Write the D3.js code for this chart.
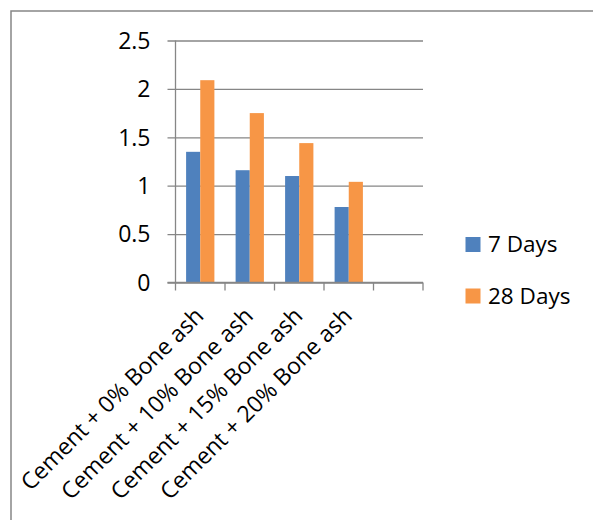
<!DOCTYPE html>
<html>
<head>
<meta charset="utf-8">
<script src="https://cdn.jsdelivr.net/npm/d3@7"></script>
<style>
  html, body { margin: 0; padding: 0; background: #fff; }
  svg { display: block; }
  text { font-family: "Open Sans", "Noto Sans", sans-serif; fill: #000; }
</style>
</head>
<body>
<svg id="chart" width="593" height="520"></svg>
<script>
// Compressive strength by mix, two curing ages
const categories = [
  "Cement + 0% Bone ash",
  "Cement + 10% Bone ash",
  "Cement + 15% Bone ash",
  "Cement + 20% Bone ash",
  ""                      // trailing empty category slot
];
const seriesNames = ["7 Days", "28 Days"];
const days7  = [1.35, 1.16, 1.10, 0.78];
const days28 = [2.09, 1.75, 1.44, 1.04];
const yTicks = [0, 0.5, 1, 1.5, 2, 2.5];
const yTickLabels = ["0", "0.5", "1", "1.5", "2", "2.5"];
const colors = ["#4F81BD", "#F79646"];

const series = [days7, days28];
const svg = d3.select("#chart");
const gridColor = "#868686";

// chart frame (top and left edges visible)
svg.append("path")
  .attr("d", "M11,520 L11,11 L593,11")
  .attr("fill", "none")
  .attr("stroke", gridColor)
  .attr("stroke-width", 1.5);

const plot = { left: 175.5, right: 423, top: 40.5, bottom: 282.5 };

const x = d3.scaleBand()
  .domain(d3.range(categories.length))
  .range([plot.left, plot.right])
  .paddingInner(0).paddingOuter(0);

const xSub = d3.scaleBand()
  .domain(d3.range(series.length))
  .range([0, x.bandwidth()])
  .paddingInner(0).paddingOuter(0.75);

const y = d3.scaleLinear().domain([0, 2.5]).range([plot.bottom, plot.top]);

// horizontal gridlines with outside tick stubs
const yAxis = d3.axisLeft(y)
  .tickValues(yTicks)
  .tickFormat((d, i) => yTickLabels[i])
  .tickSize(-(plot.right - plot.left))
  .tickSizeOuter(0);

const gy = svg.append("g")
  .attr("transform", `translate(${plot.left},0)`)
  .call(yAxis);
gy.select(".domain").remove();
gy.selectAll(".tick line")
  .attr("x1", -8)
  .attr("stroke", gridColor)
  .attr("stroke-width", 1.3);
gy.selectAll(".tick text")
  .attr("x", -25)
  .attr("dy", "0.34em")
  .style("font-size", "23px")
  .style("font-family", "'Open Sans', sans-serif");

// vertical axis line
svg.append("line")
  .attr("x1", plot.left).attr("x2", plot.left)
  .attr("y1", plot.top).attr("y2", plot.bottom)
  .attr("stroke", gridColor).attr("stroke-width", 1.3);

// bars
series.forEach((vals, s) => {
  svg.append("g").selectAll("rect")
    .data(vals)
    .join("rect")
    .attr("x", (d, i) => x(i) + xSub(s))
    .attr("width", xSub.bandwidth())
    .attr("y", d => y(d))
    .attr("height", d => y(0) - y(d))
    .attr("fill", colors[s]);
});

// category axis with ticks at slot boundaries
const boundaries = d3.range(categories.length + 1)
  .map(i => i < categories.length ? x(i) : x(categories.length - 1) + x.bandwidth());
svg.append("line")
  .attr("x1", plot.left - 8).attr("x2", plot.right)
  .attr("y1", plot.bottom).attr("y2", plot.bottom)
  .attr("stroke", gridColor).attr("stroke-width", 1.3);
svg.append("g").selectAll("line")
  .data(boundaries)
  .join("line")
  .attr("x1", d => d).attr("x2", d => d)
  .attr("y1", plot.bottom).attr("y2", plot.bottom + 8)
  .attr("stroke", gridColor).attr("stroke-width", 1.3);

// rotated category labels
svg.append("g").selectAll("text")
  .data(categories.filter(c => c !== ""))
  .join("text")
  .attr("transform", (d, i) => `translate(${x(i) + x.bandwidth() / 2 - 1},${plot.bottom + 29}) rotate(-45)`)
  .attr("text-anchor", "end")
  .attr("dy", "0.35em")
  .style("font-size", "23px")
  .text(d => d);

// legend
const legend = svg.append("g");
const legendY = [244.5, 296];
seriesNames.forEach((name, s) => {
  legend.append("rect")
    .attr("x", 465.5).attr("y", legendY[s] - 7.5)
    .attr("width", 15).attr("height", 15)
    .attr("fill", colors[s]);
  legend.append("text")
    .attr("x", 488).attr("y", legendY[s])
    .attr("dy", "0.34em")
    .style("font-size", "22.5px")
    .text(name);
});
</script>
</body>
</html>
